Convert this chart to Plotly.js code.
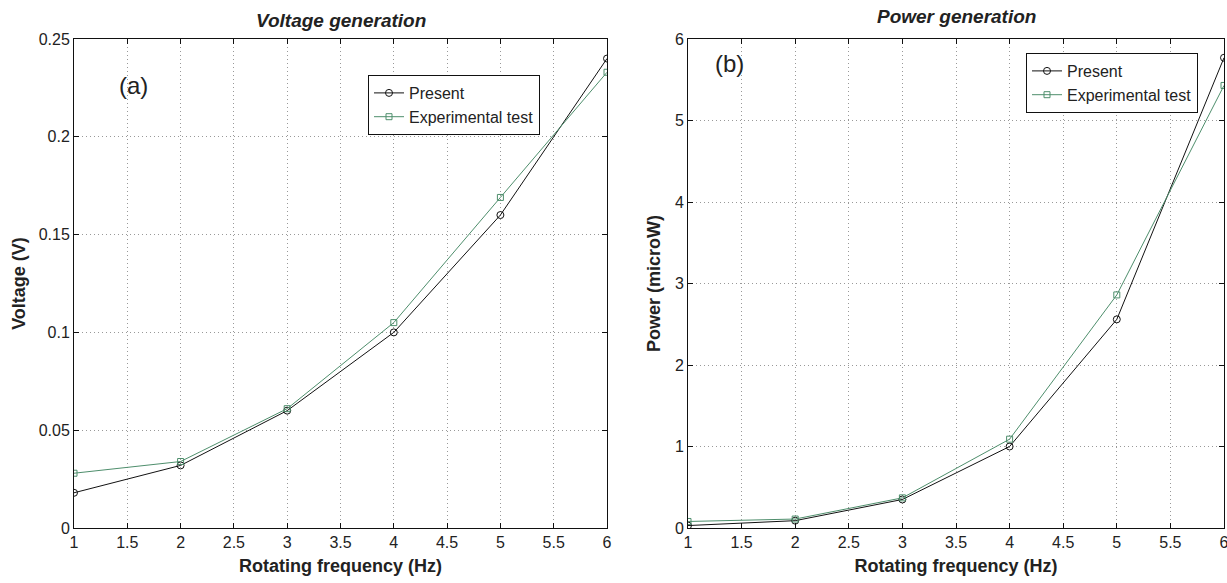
<!DOCTYPE html>
<html>
<head>
<meta charset="utf-8">
<script src="https://cdn.plot.ly/plotly-3.0.1.min.js"></script>
<style>html,body{margin:0;padding:0;background:#fff;}#chart{width:1227px;height:583px;}</style>
</head>
<body>
<div id="chart"></div>
<script>
// Data
var freq = [1, 2, 3, 4, 5, 6];
var voltagePresent = [0.018, 0.032, 0.060, 0.100, 0.160, 0.240];
var voltageExperimental = [0.028, 0.034, 0.061, 0.105, 0.169, 0.233];
var powerPresent = [0.03, 0.09, 0.35, 1.00, 2.56, 5.77];
var powerExperimental = [0.08, 0.11, 0.37, 1.09, 2.86, 5.43];
var seriesNames = ["Present", "Experimental test"];
var panelTitles = ["Voltage generation", "Power generation"];
var panelLabels = ["(a)", "(b)"];
var xTitle = "Rotating frequency (Hz)";
var yTitles = ["Voltage (V)", "Power (microW)"];

var W = 1227, H = 583;
var FONT = "Liberation Sans, Arial, Helvetica, sans-serif";
var TXT = "#222";
var GREEN = "#4e8e6c";

function px(x){ return x / W; }
function py(y){ return 1 - y / H; }

var traces = [
  {x: freq, y: voltagePresent, name: seriesNames[0], xaxis: "x", yaxis: "y", legend: "legend",
   mode: "lines+markers", line: {color: "#111", width: 1},
   marker: {symbol: "circle-open", size: 7, color: "#111", line: {width: 1}}},
  {x: freq, y: voltageExperimental, name: seriesNames[1], xaxis: "x", yaxis: "y", legend: "legend",
   mode: "lines+markers", line: {color: GREEN, width: 1},
   marker: {symbol: "square-open", size: 6, color: GREEN, line: {width: 1}}},
  {x: freq, y: powerPresent, name: seriesNames[0], xaxis: "x2", yaxis: "y2", legend: "legend2",
   mode: "lines+markers", line: {color: "#111", width: 1},
   marker: {symbol: "circle-open", size: 7, color: "#111", line: {width: 1}}},
  {x: freq, y: powerExperimental, name: seriesNames[1], xaxis: "x2", yaxis: "y2", legend: "legend2",
   mode: "lines+markers", line: {color: GREEN, width: 1},
   marker: {symbol: "square-open", size: 6, color: GREEN, line: {width: 1}}}
];

function xaxisDef(domain, anchor){
  return {
    domain: domain, anchor: anchor, range: [1, 6], dtick: 0.5, tick0: 1,
    showline: true, linecolor: "#111", linewidth: 1, mirror: "ticks",
    ticks: "inside", ticklen: 5, tickcolor: "#111", ticklabeloverflow: "allow",
    showgrid: true, gridcolor: "#999", griddash: "1px,3px", gridwidth: 1, zeroline: false,
    tickfont: {family: FONT, size: 16, color: TXT},
    title: {text: "<b>" + xTitle + "</b>", font: {family: FONT, size: 18, color: TXT}, standoff: 9}
  };
}
function yaxisDef(domain, anchor, range, dtick, title, standoff){
  return {
    domain: domain, anchor: anchor, range: range, dtick: dtick, tick0: 0,
    showline: true, linecolor: "#111", linewidth: 1, mirror: "ticks",
    ticks: "inside", ticklen: 5, tickcolor: "#111", ticklabeloverflow: "allow",
    showgrid: true, gridcolor: "#999", griddash: "1px,3px", gridwidth: 1, zeroline: false,
    tickfont: {family: FONT, size: 16, color: TXT},
    title: {text: "<b>" + title + "</b>", font: {family: FONT, size: 18, color: TXT}, standoff: standoff}
  };
}

var yDom = [py(528), py(39)];

var layout = {
  width: W, height: H,
  margin: {l: 0, r: 0, t: 0, b: 0},
  paper_bgcolor: "#fff", plot_bgcolor: "#fff",
  font: {family: FONT, color: TXT},
  showlegend: true,
  xaxis: xaxisDef([px(74), px(607)], "y"),
  yaxis: yaxisDef(yDom, "x", [0, 0.25], 0.05, yTitles[0], 8),
  xaxis2: xaxisDef([px(688), px(1224)], "y2"),
  yaxis2: yaxisDef(yDom, "x2", [0, 6], 1, yTitles[1], 9),
  legend: {x: px(540), y: py(75), xanchor: "right", yanchor: "top",
    bgcolor: "#fff", bordercolor: "#111", borderwidth: 1,
    font: {family: FONT, size: 16, color: TXT}, itemwidth: 30, tracegroupgap: 0},
  legend2: {x: px(1198), y: py(53), xanchor: "right", yanchor: "top",
    bgcolor: "#fff", bordercolor: "#111", borderwidth: 1,
    font: {family: FONT, size: 16, color: TXT}, itemwidth: 30, tracegroupgap: 0},
  annotations: [
    {text: "<b><i>" + panelTitles[0] + "</i></b>", xref: "paper", yref: "paper",
     x: px(341), y: py(20), xanchor: "center", yanchor: "middle", showarrow: false,
     font: {family: FONT, size: 19, color: TXT}},
    {text: "<b><i>" + panelTitles[1] + "</i></b>", xref: "paper", yref: "paper",
     x: px(956), y: py(17), xanchor: "center", yanchor: "middle", showarrow: false,
     font: {family: FONT, size: 19, color: TXT}},
    {text: panelLabels[0], xref: "paper", yref: "paper",
     x: px(133), y: py(85), xanchor: "center", yanchor: "middle", showarrow: false,
     font: {family: FONT, size: 24, color: TXT}},
    {text: panelLabels[1], xref: "paper", yref: "paper",
     x: px(729), y: py(63), xanchor: "center", yanchor: "middle", showarrow: false,
     font: {family: FONT, size: 24, color: TXT}}
  ]
};

Plotly.newPlot("chart", traces, layout, {displayModeBar: false, staticPlot: true});
</script>
</body>
</html>
